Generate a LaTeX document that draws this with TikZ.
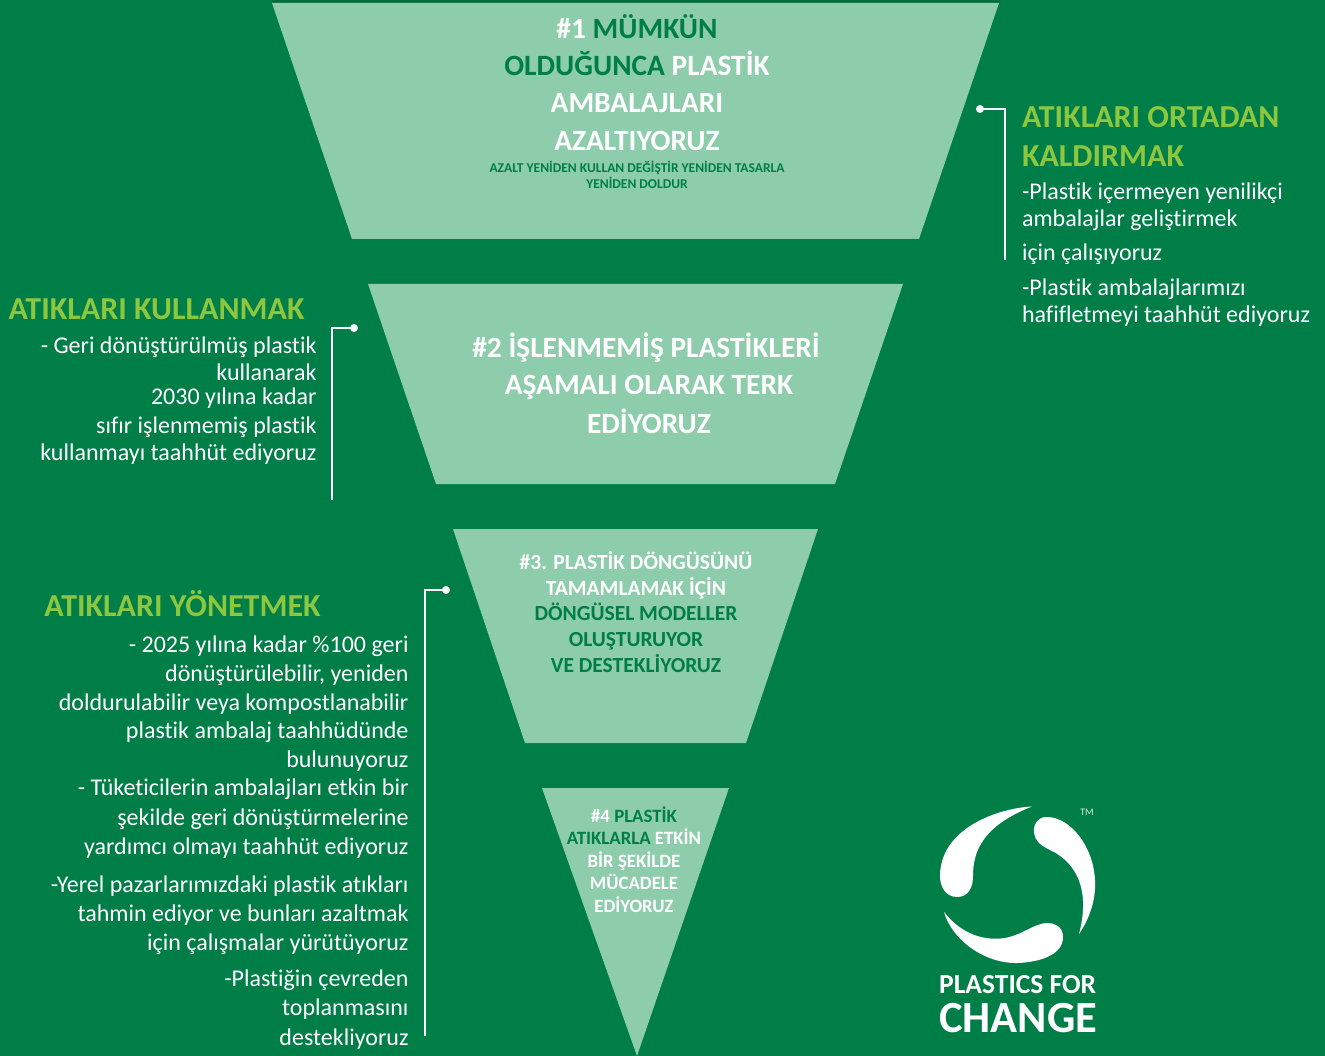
\documentclass[tikz,border=0pt]{standalone}
\usepackage{fontspec}
\setmainfont{Carlito}[Ligatures=CommonOff]
\definecolor{bgg}{HTML}{007E47}
\definecolor{topg}{HTML}{006F3C}
\definecolor{pale}{HTML}{8DCDAB}
\definecolor{lime}{HTML}{8DC63F}
\tikzset{
  x=1pt,y=-1pt,
  funnel/.style={fill=pale,draw=none},
  txt/.style={inner sep=0pt,outer sep=0pt,anchor=base,font=\bfseries},
  rt/.style={inner sep=0pt,outer sep=0pt,anchor=base east,text=white,font=\fontsize{24}{24}\selectfont},
  lf/.style={inner sep=0pt,outer sep=0pt,anchor=base west,text=white,font=\fontsize{24}{24}\selectfont},
  head/.style={inner sep=0pt,outer sep=0pt,text=lime,font=\fontsize{32}{32}\selectfont\bfseries},
  leader/.style={draw=white,line width=2pt},
  dotc/.style={circle,fill=white,inner sep=0pt,minimum size=8pt},
  logo/.style={fill=white,draw=none}
}
\newcommand{\Gw}[1]{\textcolor{white}{#1}}
\newcommand{\Gd}[1]{\textcolor{bgg}{#1}}
\begin{document}
\begin{tikzpicture}
\useasboundingbox (0,0) rectangle (1325,1056);
\fill[bgg] (0,0) rectangle (1325,1056);
\fill[topg] (272,0) rectangle (1000,3);
% funnels
\path[funnel] (272,3) -- (999,3) -- (919,239) -- (352,239) -- cycle;
\path[funnel] (368,284) -- (903,284) -- (835,484) -- (436,484) -- cycle;
\path[funnel] (453,529) -- (818,529) -- (746,743) -- (525,743) -- cycle;
\path[funnel] (542,788) -- (729,788) -- (637,1056) -- cycle;
% funnel 1
\tikzset{t1/.style={txt,font=\fontsize{29.4}{30}\selectfont\bfseries}}
\node[t1] (a1) at (637,39) {\Gw{\#1} \Gd{MÜMKÜN}};
\node[t1] (a2) at (637,76) {\Gd{OLDUĞUNCA} \Gw{PLASTİK}};
\node[t1,text=white] (a3) at (637,113) {AMBALAJLARI};
\node[t1,text=white] (a4) at (637,151) {AZALTIYORUZ};
\node[txt,text=bgg,font=\fontsize{13.5}{14}\selectfont\bfseries] (a5) at (637,173) {AZALT YENİDEN KULLAN DEĞİŞTİR YENİDEN TASARLA};
\node[txt,text=bgg,font=\fontsize{13.5}{14}\selectfont\bfseries] (a6) at (637,189) {YENİDEN DOLDUR};
% funnel 2
\node[t1] (b1) at (646,358) {\Gw{\#2} \Gw{İŞLENMEMİŞ PLASTİKLERİ}};
\node[t1,text=white] (b2) at (649,395) {AŞAMALI OLARAK TERK};
\node[t1,text=white] (b3) at (649,433) {EDİYORUZ};
% funnel 3
\tikzset{t3/.style={txt,font=\fontsize{21.5}{22}\selectfont\bfseries}}
\node[t3,text=white] (c1) at (636,569) {\#3. PLASTİK DÖNGÜSÜNÜ};
\node[t3,text=white] (c2) at (636,595) {TAMAMLAMAK İÇİN};
\node[t3,text=bgg] (c3) at (636,620) {DÖNGÜSEL MODELLER};
\node[t3,text=bgg] (c4) at (636,646) {OLUŞTURUYOR};
\node[t3,text=bgg] (c5) at (636,672) {VE DESTEKLİYORUZ};
% funnel 4
\tikzset{t4/.style={txt,font=\fontsize{18.8}{19}\selectfont\bfseries}}
\node[t4] (d1) at (634,822) {\Gw{\#4} \Gd{PLASTİK}};
\node[t4] (d2) at (634,844) {\Gd{ATIKLARLA} \Gw{ETKİN}};
\node[t4,text=white] (d3) at (634,867) {BİR ŞEKİLDE};
\node[t4,text=white] (d4) at (634,889) {MÜCADELE};
\node[t4,text=white] (d5) at (634,912) {EDİYORUZ};
% right block
\coordinate (rend) at (1004.5,260);
\node[dotc] (rdot) at (980,109) {};
\draw[leader] (rdot.center) -| (rend);
\node[head,anchor=base west] (r1) at (1022,128) {ATIKLARI ORTADAN};
\node[head,anchor=base west] (r2) at (1022,167) {KALDIRMAK};
\node[lf] (r3) at (1022,200) {-Plastik içermeyen yenilikçi};
\node[lf] (r4) at (1022,227) {ambalajlar geliştirmek};
\node[lf] (r5) at (1022,261) {için çalışıyoruz};
\node[lf] (r6) at (1022,296) {-Plastik ambalajlarımızı};
\node[lf] (r7) at (1022,323) {hafifletmeyi taahhüt ediyoruz};
% left block 1
\coordinate (lend) at (332,499.5);
\node[dotc] (ldot) at (354,328) {};
\draw[leader] (ldot.center) -| (lend);
\node[head,anchor=base] (l0) at (156.5,320) {ATIKLARI KULLANMAK};
\node[rt] (l1) at (316.5,354) {- Geri dönüştürülmüş plastik};
\node[rt] (l2) at (316.5,381) {kullanarak};
\node[rt] (l3) at (316.5,404) {2030 yılına kadar};
\node[rt] (l4) at (316.5,433) {sıfır işlenmemiş plastik};
\node[rt] (l5) at (316.5,460) {kullanmayı taahhüt ediyoruz};
% left block 2
\coordinate (mend) at (425,1036);
\node[dotc] (mdot) at (446,590) {};
\draw[leader] (mdot.center) -| (mend);
\node[head,anchor=base] (m0) at (182.5,616) {ATIKLARI YÖNETMEK};
\node[rt] (m1) at (408.5,652.5) {- 2025 yılına kadar \%100 geri};
\node[rt] (m2) at (408.5,681.5) {dönüştürülebilir, yeniden};
\node[rt] (m3) at (408.5,710) {doldurulabilir veya kompostlanabilir};
\node[rt] (m4) at (408.5,738) {plastik ambalaj taahhüdünde};
\node[rt] (m5) at (408.5,767) {bulunuyoruz};
\node[rt] (m6) at (408.5,795) {- Tüketicilerin ambalajları etkin bir};
\node[rt] (m7) at (408.5,825) {şekilde geri dönüştürmelerine};
\node[rt] (m8) at (408.5,854) {yardımcı olmayı taahhüt ediyoruz};
\node[rt] (m9) at (408.5,892) {-Yerel pazarlarımızdaki plastik atıkları};
\node[rt] (m10) at (408.5,921) {tahmin ediyor ve bunları azaltmak};
\node[rt] (m11) at (408.5,950) {için çalışmalar yürütüyoruz};
\node[rt] (m12) at (408.5,986) {-Plastiğin çevreden};
\node[rt] (m13) at (408.5,1015) {toplanmasını};
\node[rt] (m14) at (408.5,1045) {destekliyoruz};
% logo
\fill[logo] (1032,806.5) .. controls (1000,808) and (948,826) .. (941,866)
  .. controls (937,885) and (945,897) .. (957,897)
  .. controls (968,897) and (973,888) .. (973,876)
  .. controls (973,852) and (982,826) .. (1032,806.5) -- cycle;
\fill[logo] (1079,934) .. controls (1092,915) and (1096,895) .. (1095,880)
  .. controls (1093,845) and (1070,818) .. (1048,817)
  .. controls (1039,816) and (1033,824) .. (1034,832)
  .. controls (1035,842) and (1042,846) .. (1050,850)
  .. controls (1072,860) and (1092,885) .. (1079,934) -- cycle;
\fill[logo] (944,912) .. controls (952,940) and (985,964) .. (1018,963)
  .. controls (1040,962) and (1063,955) .. (1063,937)
  .. controls (1063,927) and (1055,923) .. (1048,923)
  .. controls (1034,923) and (1025,934) .. (1005,938)
  .. controls (985,941) and (962,935) .. (944,912) -- cycle;
\node[inner sep=0pt,text=white!85!bgg,font=\fontsize{10}{10}\selectfont] (tm) at (1087,812) {TM};
\node[inner sep=0pt,anchor=base west,text=white,font=\fontsize{27.5}{27.5}\selectfont\bfseries] (p1) at (939,993) {PLASTICS FOR};
\node[inner sep=0pt,anchor=base west,text=white,font=\fontsize{44.5}{44.5}\selectfont\bfseries] (p2) at (939,1032) {CHANGE};
\end{tikzpicture}
\end{document}
